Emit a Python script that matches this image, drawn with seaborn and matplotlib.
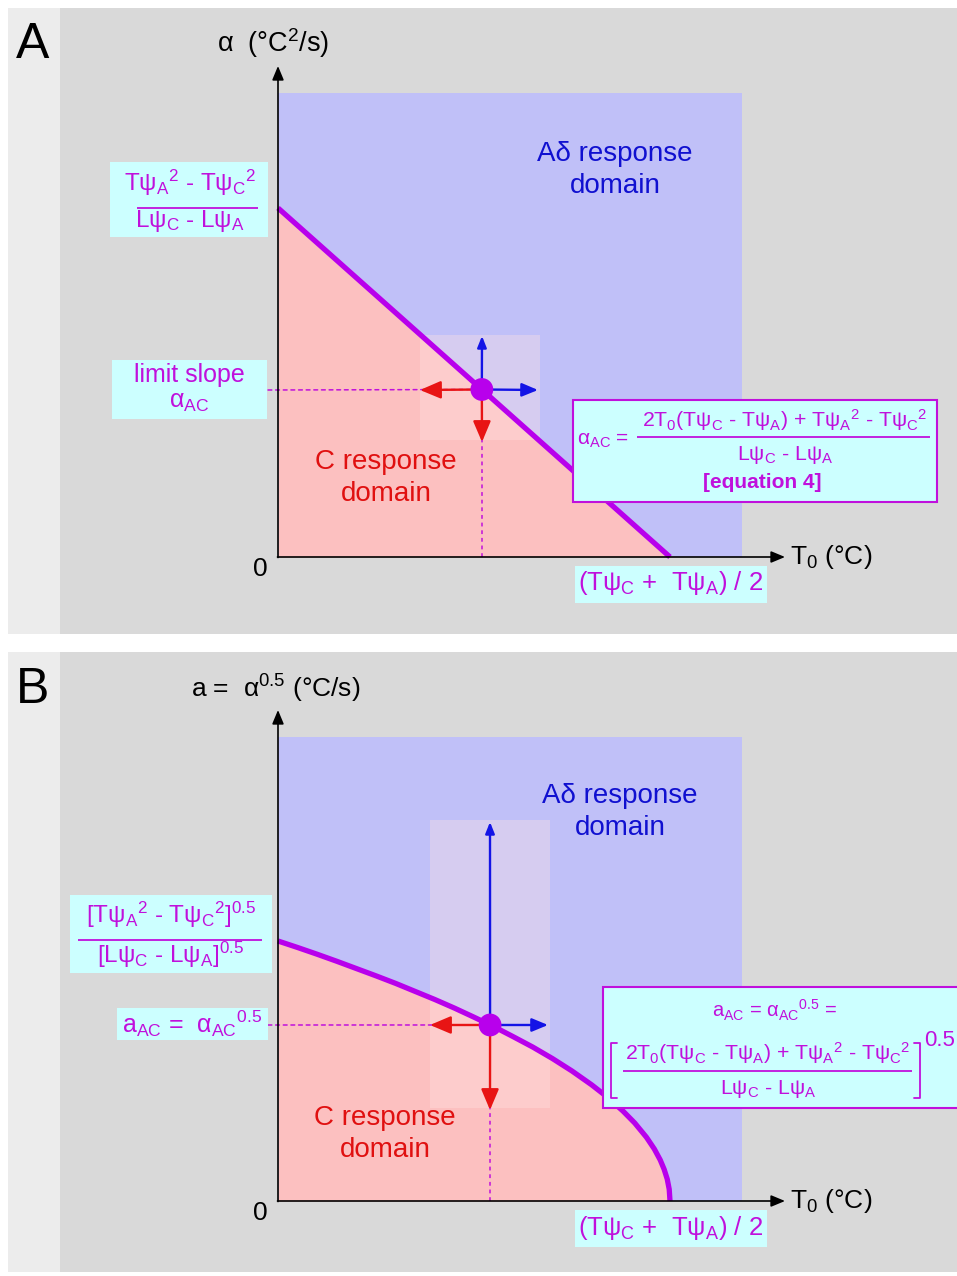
import numpy as np
import pandas as pd
import matplotlib
matplotlib.use("Agg")
import matplotlib.pyplot as plt
import matplotlib.transforms as mtransforms
from matplotlib.patches import Rectangle
import seaborn as sns

# ---------------- data (normalised units) ----------------
# Panel A : limit line alpha_AC(T0); T0 in units of (Tpsi_C + Tpsi_A)/2,
#           alpha in units of its intercept on the alpha axis
t0_A = [0.0, 1.0]
alpha_A = [1.0, 0.0]
point_A_t0 = [0.52]
point_A_alpha = [0.48]
domain_A_t0_max = 1.184
domain_A_alpha_max = 1.33

# Panel B : a_AC(T0) = alpha_AC^0.5
t0_B = [0.0, 0.05, 0.1, 0.15, 0.2, 0.25, 0.3, 0.35, 0.4, 0.45, 0.5, 0.55, 0.6, 0.65,
        0.7, 0.75, 0.8, 0.84, 0.88, 0.91, 0.94, 0.96, 0.975, 0.985, 0.993, 0.998, 1.0]
a_B = [1.000, 0.975, 0.949, 0.922, 0.894, 0.866, 0.837, 0.806, 0.775, 0.742, 0.707,
       0.671, 0.632, 0.592, 0.548, 0.500, 0.447, 0.400, 0.346, 0.300, 0.245, 0.200,
       0.158, 0.122, 0.084, 0.045, 0.0]
point_B_t0 = [0.541]
point_B_a = [0.677]
domain_B_t0_max = 1.184
domain_B_a_max = 1.785

# ---------------- style ----------------
sns.set_style("white")
plt.rcParams["font.family"] = ["Liberation Sans", "DejaVu Sans"]
plt.rcParams["mathtext.fontset"] = "custom"
plt.rcParams["mathtext.rm"] = "Liberation Sans"
plt.rcParams["mathtext.it"] = "Liberation Sans:italic"
plt.rcParams["mathtext.bf"] = "Liberation Sans:bold"
plt.rcParams["mathtext.default"] = "regular"

GREY = "#d9d9d9"
LIGHT = "#ececec"
BLUE_DOM = "#c0c0f8"
PINK = "#fcc0c0"
CYAN = "#ccffff"
MAG_LINE = "#b800ec"
MAG_TXT = "#c010dc"
BLUE = "#1414e6"
RED = "#e81414"
BLUE_TXT = "#1010d0"
RED_TXT = "#e01010"

W, H = 957, 1276
fig = plt.figure(figsize=(W / 100, H / 100), dpi=100)
fig.patch.set_facecolor("white")
PX = mtransforms.Affine2D().scale(1 / W, -1 / H).translate(0, 1) + fig.transFigure


def make_panel(top, bottom, ox, oy, sx, sy):
    ax = fig.add_axes([8 / W, 1 - bottom / H, (W - 8) / W, (bottom - top) / H])
    ax.set_xlim((8 - ox) / sx, (W - ox) / sx)
    ax.set_ylim((oy - bottom) / sy, (oy - top) / sy)
    ax.set_facecolor(GREY)
    ax.set_xticks([])
    ax.set_yticks([])
    for s in ax.spines.values():
        s.set_visible(False)
    ax.add_patch(Rectangle((8, top), 52, bottom - top, transform=PX,
                           facecolor=LIGHT, edgecolor="none", zorder=0))
    return ax


def txt(ax, x, y, s, size=17, color=MAG_TXT, ha="center", va="center", **kw):
    ax.text(x, y, s, transform=PX, fontsize=size, color=color, ha=ha, va=va,
            zorder=10, **kw)


def box(ax, x0, y0, x1, y1, edge=None, fc=CYAN, alpha=1.0, z=8):
    ax.add_patch(Rectangle((x0, y0), x1 - x0, y1 - y0, transform=PX,
                           facecolor=fc, alpha=alpha,
                           edgecolor=edge if edge else "none",
                           lw=1.5 if edge else 0, zorder=z))


def hline_px(ax, x0, x1, y, color=MAG_TXT, lw=1.3):
    ax.plot([x0, x1], [y, y], transform=PX, color=color, lw=lw, zorder=10,
            solid_capstyle="butt")


def arrow(ax, start_data, end_px, color, hl, hw, ms=15, lw=1.7):
    ax.annotate("", xy=end_px, xycoords=PX, xytext=start_data, textcoords="data",
                arrowprops=dict(arrowstyle=f"-|>,head_length={hl},head_width={hw}",
                                color=color, lw=lw, mutation_scale=ms,
                                shrinkA=0, shrinkB=0), zorder=6)


def axis_arrow(ax, start_px, end_px):
    ax.annotate("", xy=end_px, xycoords=PX, xytext=start_px, textcoords=PX,
                arrowprops=dict(arrowstyle="-|>,head_length=0.6,head_width=0.25",
                                color="black", lw=1.2, mutation_scale=14,
                                shrinkA=0, shrinkB=0), zorder=7)


def dotted_to_point(ax, start_px, pt):
    ax.annotate("", xy=pt, xycoords="data", xytext=start_px, textcoords=PX,
                arrowprops=dict(arrowstyle="-", color=MAG_TXT, lw=1.1,
                                linestyle=(0, (2.5, 2.5)), shrinkA=0, shrinkB=0),
                zorder=4)


def draw_panel(ax, t0, yv, pt_t0, pt_y, tmax, ymax, origin, hl_box, arrow_ends, ytip):
    ox, oy = origin
    # domains
    ax.add_patch(Rectangle((0, 0), tmax, ymax, facecolor=BLUE_DOM, edgecolor="none", zorder=1))
    ax.fill_between(t0, 0, yv, color=PINK, lw=0, zorder=1.5)
    # highlight box around the operating point
    box(ax, *hl_box, fc="#ffe2e2", alpha=0.36, z=2)
    # limit curve
    sns.lineplot(x=t0, y=yv, ax=ax, sort=False, color=MAG_LINE, lw=3.8, zorder=3,
                 estimator=None, solid_joinstyle="round", solid_capstyle="butt")
    # dotted guide down to the T0 axis
    ax.plot([pt_t0[0], pt_t0[0]], [0, pt_y[0]], color=MAG_TXT, lw=1.1,
            ls=(0, (2.5, 2.5)), zorder=4)
    # arrows from the point
    p = (pt_t0[0], pt_y[0])
    up, right, left, down = arrow_ends
    arrow(ax, p, up, BLUE, 0.45, 0.18)
    arrow(ax, p, right, BLUE, 0.65, 0.27)
    arrow(ax, p, left, RED, 0.85, 0.36)
    arrow(ax, p, down, RED, 0.85, 0.36)
    sns.scatterplot(x=pt_t0, y=pt_y, ax=ax, s=270, color=MAG_LINE, edgecolor="none",
                    zorder=7)
    # axes
    axis_arrow(ax, (ox, oy + 0.5), (ox, ytip))
    axis_arrow(ax, (ox - 0.5, oy), (785, oy))


# ================= Panel A =================
axA = make_panel(8, 634, 278, 557, 392, 349)
draw_panel(axA, t0_A, alpha_A, point_A_t0, point_A_alpha,
           domain_A_t0_max, domain_A_alpha_max, (278, 557),
           (420, 335, 540, 440),
           [(482, 336), (538, 390), (420, 390), (482, 442)], 66)
dotted_to_point(axA, (268, 390), (point_A_t0[0], point_A_alpha[0]))

txt(axA, 33, 45, "A", size=36, color="black")
txt(axA, 273, 43, r"$\alpha$  (°C$^{2}$/s)", size=19.5, color="black")
txt(axA, 260, 569, "0", size=19, color="black")
txt(axA, 790, 557, r"T$_{0}$ (°C)", size=19, color="black", ha="left")
txt(axA, 615, 170, "A\u03b4 response\ndomain", size=20, color=BLUE_TXT, linespacing=1.28)
txt(axA, 386, 478, "C response\ndomain", size=20, color=RED_TXT, linespacing=1.28)

box(axA, 110, 162, 268, 237)
txt(axA, 190, 183, r"T$\psi_{A}$$^{2}$ - T$\psi_{C}$$^{2}$", size=17.5)
hline_px(axA, 137, 258, 208)
txt(axA, 190, 221, r"L$\psi_{C}$ - L$\psi_{A}$", size=17.5)

box(axA, 112, 360, 267, 419)
txt(axA, 189, 375, "limit slope", size=18)
txt(axA, 189, 402, r"$\alpha_{AC}$", size=18)

box(axA, 573, 400, 937, 502, edge=MAG_TXT)
txt(axA, 577, 440, r"$\alpha_{AC}$ =", size=15, ha="left")
txt(axA, 785, 420, r"2T$_{0}$(T$\psi_{C}$ - T$\psi_{A}$) + T$\psi_{A}$$^{2}$ - T$\psi_{C}$$^{2}$", size=15.3)
hline_px(axA, 637, 930, 437)
txt(axA, 785, 455, r"L$\psi_{C}$ - L$\psi_{A}$", size=15.3)
txt(axA, 762, 482, "[equation 4]", size=15, fontweight="bold")

box(axA, 575, 566, 767, 603)
txt(axA, 671, 583, r"(T$\psi_{C}$ +  T$\psi_{A}$) / 2", size=18.5)

# ================= Panel B =================
axB = make_panel(652, 1272, 278, 1201, 392, 260)
draw_panel(axB, t0_B, a_B, point_B_t0, point_B_a,
           domain_B_t0_max, domain_B_a_max, (278, 1201),
           (430, 820, 550, 1108),
           [(490, 822), (548, 1025), (430, 1025), (490, 1110)], 710)
dotted_to_point(axB, (268, 1025), (point_B_t0[0], point_B_a[0]))

txt(axB, 33, 690, "B", size=36, color="black")
txt(axB, 276, 689, r"a =  $\alpha^{0.5}$ (°C/s)", size=19, color="black")
txt(axB, 260, 1213, "0", size=19, color="black")
txt(axB, 790, 1201, r"T$_{0}$ (°C)", size=19, color="black", ha="left")
txt(axB, 620, 812, "A\u03b4 response\ndomain", size=20, color=BLUE_TXT, linespacing=1.28)
txt(axB, 385, 1134, "C response\ndomain", size=20, color=RED_TXT, linespacing=1.28)

box(axB, 70, 895, 272, 973)
txt(axB, 171, 915, r"[T$\psi_{A}$$^{2}$ - T$\psi_{C}$$^{2}$]$^{0.5}$", size=17.5)
hline_px(axB, 78, 262, 940)
txt(axB, 171, 955, r"[L$\psi_{C}$ - L$\psi_{A}$]$^{0.5}$", size=17.5)

box(axB, 117, 1008, 268, 1040)
txt(axB, 192, 1024, r"a$_{AC}$ =  $\alpha_{AC}$$^{0.5}$", size=18)

box(axB, 603, 987, 975, 1108, edge=MAG_TXT)
txt(axB, 775, 1010, r"a$_{AC}$ = $\alpha_{AC}$$^{0.5}$ =", size=14.5)
txt(axB, 768, 1053, r"2T$_{0}$(T$\psi_{C}$ - T$\psi_{A}$) + T$\psi_{A}$$^{2}$ - T$\psi_{C}$$^{2}$", size=15.3)
hline_px(axB, 623, 912, 1071)
txt(axB, 768, 1089, r"L$\psi_{C}$ - L$\psi_{A}$", size=15.3)
axB.plot([617, 611, 611, 617], [1043, 1043, 1098, 1098], transform=PX, color=MAG_TXT, lw=1.3, zorder=10)
axB.plot([914, 920, 920, 914], [1043, 1043, 1098, 1098], transform=PX, color=MAG_TXT, lw=1.3, zorder=10)
txt(axB, 940, 1040, "0.5", size=16)

box(axB, 575, 1210, 767, 1247)
txt(axB, 671, 1228, r"(T$\psi_{C}$ +  T$\psi_{A}$) / 2", size=18.5)

for ax, oy, sy, top, bottom in [(axA, 557, 349, 8, 634), (axB, 1201, 260, 652, 1272)]:
    ax.set_xlim((8 - 278) / 392, (W - 278) / 392)
    ax.set_ylim((oy - bottom) / sy, (oy - top) / sy)
    ax.set_xlabel("")
    ax.set_ylabel("")

fig.savefig("out.png", dpi=100, facecolor="white")
